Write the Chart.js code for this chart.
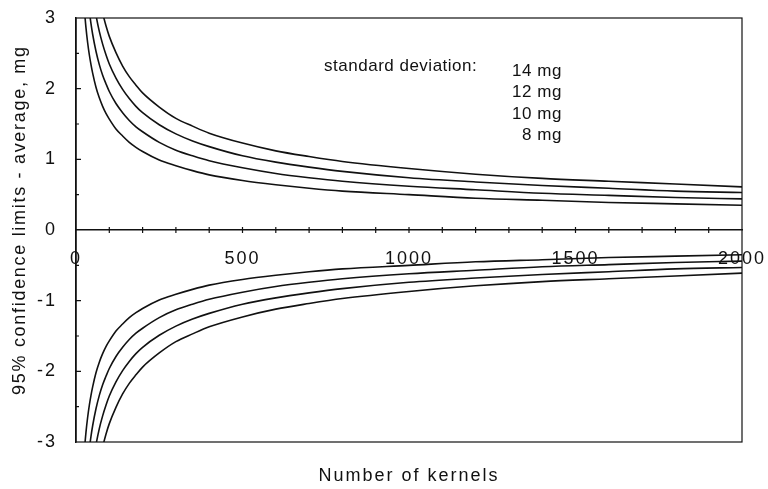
<!DOCTYPE html>
<html>
<head>
<meta charset="utf-8">
<script src="https://cdn.jsdelivr.net/npm/chart.js@4/dist/chart.umd.min.js"></script>
<style>
  html, body { margin: 0; padding: 0; background: #fff; }
  #wrap { width: 768px; height: 489px; }
</style>
</head>
<body>
<div id="wrap"><canvas id="ci" width="768" height="489"></canvas></div>
<script>
// number of kernels (x) and confidence limits, mg
var kernels = [20, 25, 30, 35, 40, 45, 50, 60, 70, 80, 90, 100, 120, 140, 160, 180, 200,
  250, 300, 350, 400, 500, 600, 700, 800, 1000, 1200, 1400, 1600, 1800, 2000];

var sd14Upper = [6.14, 5.49, 5.01, 4.64, 4.34, 4.09, 3.88, 3.54, 3.28, 3.07, 2.89, 2.74, 2.51, 2.32, 2.17, 2.05, 1.94,
  1.74, 1.58, 1.47, 1.37, 1.23, 1.12, 1.04, 0.97, 0.87, 0.79, 0.73, 0.69, 0.65, 0.61];
var sd12Upper = [5.26, 4.70, 4.29, 3.98, 3.72, 3.51, 3.33, 3.04, 2.81, 2.63, 2.48, 2.35, 2.15, 1.99, 1.86, 1.75, 1.66,
  1.49, 1.36, 1.26, 1.18, 1.05, 0.96, 0.89, 0.83, 0.74, 0.68, 0.63, 0.59, 0.55, 0.53];
var sd10Upper = [4.38, 3.92, 3.58, 3.31, 3.10, 2.92, 2.77, 2.53, 2.34, 2.19, 2.07, 1.96, 1.79, 1.66, 1.55, 1.46, 1.39,
  1.24, 1.13, 1.05, 0.98, 0.88, 0.80, 0.74, 0.69, 0.62, 0.57, 0.52, 0.49, 0.46, 0.44];
var sd8Upper = [3.51, 3.14, 2.86, 2.65, 2.48, 2.34, 2.22, 2.02, 1.87, 1.75, 1.65, 1.57, 1.43, 1.33, 1.24, 1.17, 1.11,
  0.99, 0.91, 0.84, 0.78, 0.70, 0.64, 0.59, 0.55, 0.50, 0.45, 0.42, 0.39, 0.37, 0.35];

var sd14Lower = [-6.14, -5.49, -5.01, -4.64, -4.34, -4.09, -3.88, -3.54, -3.28, -3.07, -2.89, -2.74, -2.51, -2.32, -2.17, -2.05, -1.94,
  -1.74, -1.58, -1.47, -1.37, -1.23, -1.12, -1.04, -0.97, -0.87, -0.79, -0.73, -0.69, -0.65, -0.61];
var sd12Lower = [-5.26, -4.70, -4.29, -3.98, -3.72, -3.51, -3.33, -3.04, -2.81, -2.63, -2.48, -2.35, -2.15, -1.99, -1.86, -1.75, -1.66,
  -1.49, -1.36, -1.26, -1.18, -1.05, -0.96, -0.89, -0.83, -0.74, -0.68, -0.63, -0.59, -0.55, -0.53];
var sd10Lower = [-4.38, -3.92, -3.58, -3.31, -3.10, -2.92, -2.77, -2.53, -2.34, -2.19, -2.07, -1.96, -1.79, -1.66, -1.55, -1.46, -1.39,
  -1.24, -1.13, -1.05, -0.98, -0.88, -0.80, -0.74, -0.69, -0.62, -0.57, -0.52, -0.49, -0.46, -0.44];
var sd8Lower = [-3.51, -3.14, -2.86, -2.65, -2.48, -2.34, -2.22, -2.02, -1.87, -1.75, -1.65, -1.57, -1.43, -1.33, -1.24, -1.17, -1.11,
  -0.99, -0.91, -0.84, -0.78, -0.70, -0.64, -0.59, -0.55, -0.50, -0.45, -0.42, -0.39, -0.37, -0.35];

var sdLabels = ['14 mg', '12 mg', '10 mg', '8 mg'];
var xTicks = [0, 500, 1000, 1500, 2000];
var yTicks = [-3, -2, -1, 0, 1, 2, 3];

var ink = '#111';
var face = '"Liberation Sans", Arial, Helvetica, sans-serif';
Chart.defaults.font.family = face;
Chart.defaults.color = ink;

function pts(ys) {
  return kernels.map(function (k, i) { return {x: k, y: ys[i]}; });
}
function curve(label, ys) {
  return {
    label: label,
    data: pts(ys),
    borderColor: ink,
    borderWidth: 1.6,
    pointRadius: 0,
    fill: false,
    cubicInterpolationMode: 'monotone'
  };
}

// the scanned lettering is loosely tracked
var tracking = {
  id: 'tracking',
  beforeDraw: function (chart) { chart.ctx.letterSpacing = '2px'; }
};

// box, little tick marks, y title and the "standard deviation" key
var frameAndKey = {
  id: 'frameAndKey',
  afterDraw: function (chart) {
    var ctx = chart.ctx, a = chart.chartArea, x = chart.scales.x, y = chart.scales.y;
    ctx.save();
    ctx.strokeStyle = ink;
    ctx.lineWidth = 1.2;
    ctx.strokeRect(a.left, a.top, a.right - a.left, a.bottom - a.top);
    var y0 = y.getPixelForValue(0);
    ctx.beginPath();
    for (var v = 100; v < 2000; v += 100) {
      var px = x.getPixelForValue(v);
      ctx.moveTo(px, y0 - 3); ctx.lineTo(px, y0 + 3);
    }
    for (var w = -2.5; w <= 2.5; w += 0.5) {
      if (w === 0) continue;
      var py = y.getPixelForValue(w);
      ctx.moveTo(a.left, py); ctx.lineTo(a.left + (Number.isInteger(w) ? 5 : 3), py);
    }
    ctx.stroke();

    ctx.fillStyle = ink;
    // y axis title
    ctx.save();
    ctx.font = '18px ' + face;
    ctx.letterSpacing = '1.7px';
    ctx.textAlign = 'center';
    ctx.textBaseline = 'middle';
    ctx.translate(20, y.getPixelForValue(0.14));
    ctx.rotate(-Math.PI / 2);
    ctx.fillText('95% confidence limits - average, mg', 0, 0);
    ctx.restore();

    ctx.font = '17px ' + face;
    ctx.letterSpacing = '0.5px';
    ctx.textBaseline = 'middle';
    ctx.textAlign = 'left';
    ctx.fillText('standard deviation:', x.getPixelForValue(745), y.getPixelForValue(2.32));
    ctx.textAlign = 'right';
    var right = x.getPixelForValue(1459);
    var top = y.getPixelForValue(2.25);
    sdLabels.forEach(function (s, i) {
      ctx.fillText(s, right, top + i * 21.6);
    });
    ctx.restore();
  }
};

new Chart(document.getElementById('ci'), {
  type: 'line',
  data: {
    datasets: [
      curve(sdLabels[0], sd14Upper), curve(sdLabels[1], sd12Upper),
      curve(sdLabels[2], sd10Upper), curve(sdLabels[3], sd8Upper),
      curve(sdLabels[0], sd14Lower), curve(sdLabels[1], sd12Lower),
      curve(sdLabels[2], sd10Lower), curve(sdLabels[3], sd8Lower)
    ]
  },
  options: {
    responsive: false,
    animation: false,
    layout: { padding: { top: 18, right: 26, left: 0, bottom: 0 } },
    plugins: { legend: { display: false }, tooltip: { enabled: false } },
    scales: {
      x: {
        type: 'linear',
        position: { y: 0 },
        min: 0, max: 2000,
        afterBuildTicks: function (s) { s.ticks = xTicks.map(function (v) { return {value: v}; }); },
        afterFit: function (s) { s.paddingLeft = 0; s.paddingRight = 0; },
        ticks: { autoSkip: false, maxRotation: 0, padding: 18, color: ink, font: { size: 18 },
                 callback: function (v) { return String(v); } },
        grid: { display: false, drawTicks: false },
        border: { display: true, color: ink, width: 1.5 }
      },
      xTitle: {
        type: 'linear',
        position: 'bottom',
        min: 0, max: 2000,
        afterFit: function (s) { s.height = 47; s.paddingLeft = 0; s.paddingRight = 0; },
        ticks: { display: false },
        grid: { display: false, drawTicks: false },
        border: { display: false },
        title: { display: true, text: 'Number of kernels', color: ink, font: { size: 18 }, padding: { top: 0, bottom: 2 } }
      },
      y: {
        type: 'linear',
        min: -3, max: 3,
        afterBuildTicks: function (s) { s.ticks = yTicks.map(function (v) { return {value: v}; }); },
        afterFit: function (s) { s.width = 76; s.paddingTop = 0; s.paddingBottom = 0; },
        ticks: { padding: 19, color: ink, font: { size: 18 }, callback: function (v) { return String(v); } },
        grid: { display: false, drawTicks: false },
        border: { display: true, color: ink, width: 1.5 }
      }
    }
  },
  plugins: [tracking, frameAndKey]
});
</script>
</body>
</html>
